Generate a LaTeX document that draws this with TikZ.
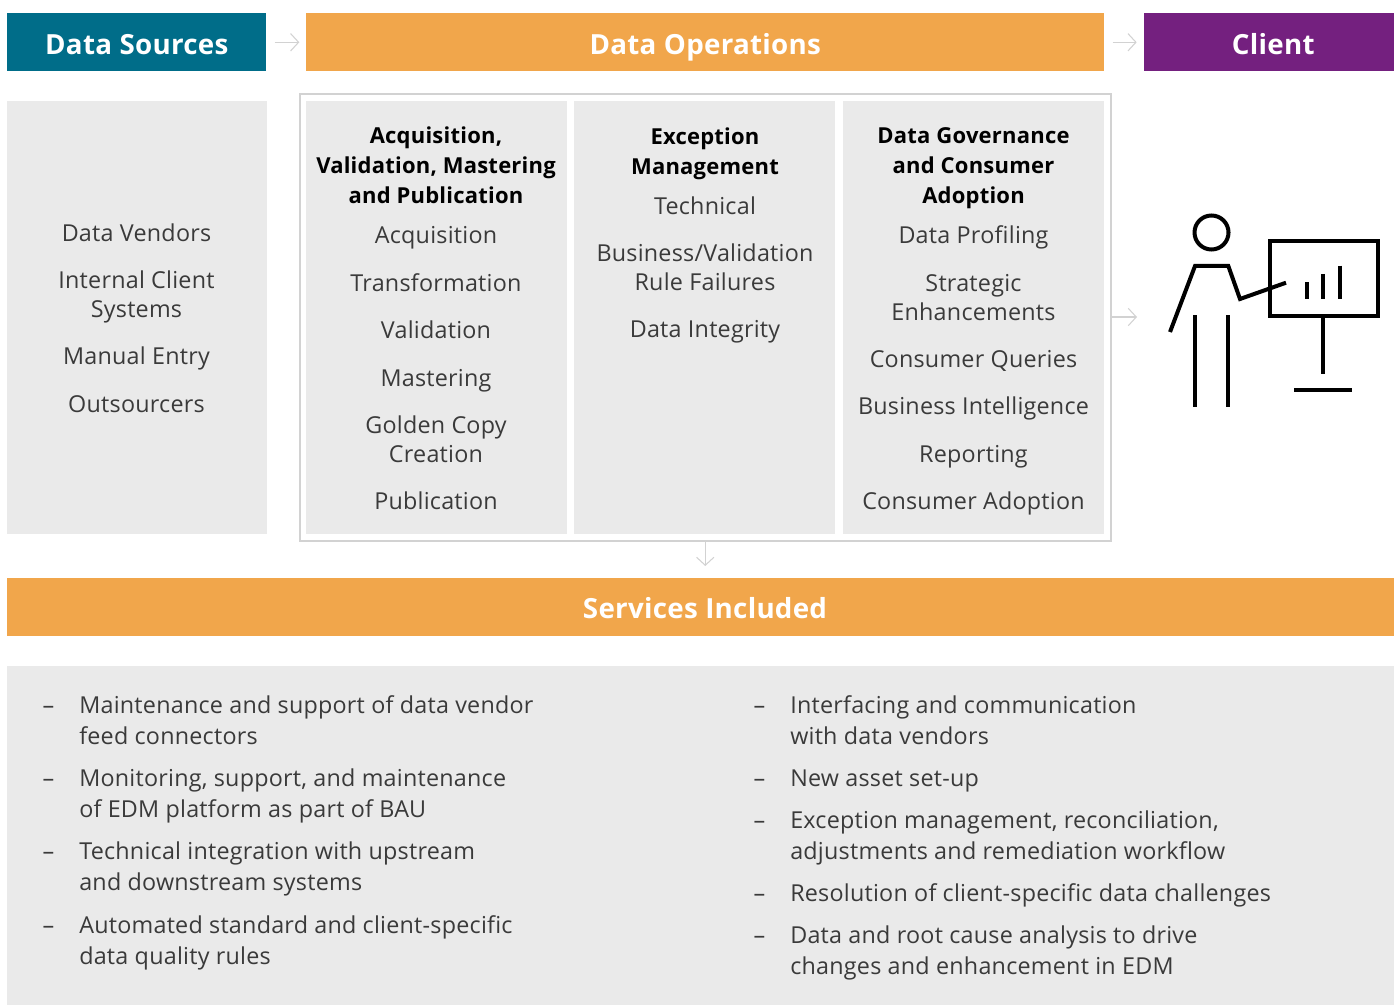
\documentclass[tikz,border=0pt]{standalone}
\usepackage{fontspec}
\setmainfont{Open Sans}[Ligatures=NoCommon,LetterSpace=1]
\usepackage{xcolor}
\usetikzlibrary{positioning,arrows.meta}
\definecolor{srcteal}{HTML}{006D89}
\definecolor{opsorange}{HTML}{F1A64B}
\definecolor{clientpurple}{HTML}{74207F}
\definecolor{panelgrey}{HTML}{EAEAEA}
\definecolor{framegrey}{HTML}{D2D2D2}
\definecolor{textgrey}{HTML}{3A3A3A}
\newcommand{\dashitem}{\llap{\hbox to 27.5pt{--\hss}}}

\begin{document}
\begin{tikzpicture}[%
    x=0.75pt,
    y=-0.75pt,
    ->,
    >={Straight Barb[length=6pt,width=13pt]},
    bar/.style={%
      anchor=north west,
      minimum height=43.5pt,
      inner sep=0pt,
      text=white,
      text height=19pt,
      text depth=0.5pt,
      font=\fontsize{20.8}{26}\selectfont\bfseries
    },
    panel/.style={%
      anchor=north west,
      minimum height=324.75pt,
      minimum width=195.75pt,
      inner sep=0pt,
      fill=panelgrey
    },
    item/.style={%
      align=center,
      inner sep=0pt,
      text=textgrey,
      node distance=13.5pt,
      execute at begin node=\strut,
      execute at end node=\strut,
      font=\fontsize{17.5}{21.75}\selectfont
    },
    head/.style={%
      align=center,
      inner sep=0pt,
      text=black,
      execute at begin node=\strut,
      execute at end node=\strut,
      font=\fontsize{16.5}{22.5}\selectfont\bfseries
    },
    bullet/.style={%
      align=left,
      inner sep=0pt,
      text=textgrey,
      anchor=north west,
      node distance=8pt,
      execute at begin node=\strut,
      execute at end node=\strut,
      font=\fontsize{17.5}{23.25}\selectfont
    },
    link/.style={%
      draw=framegrey,
      line width=0.8pt
    },
    figureline/.style={%
      -,
      draw=black,
      line width=3pt
    }
  ]
    \useasboundingbox (0,0) rectangle (1394,1005);

    % header row
    \node[bar,fill=srcteal,minimum width=194.25pt] (sources) at (7,13) {Data Sources};
    \node[bar,fill=opsorange,minimum width=598.5pt,right=29.6pt of sources.north east,anchor=north west] (ops) {Data Operations};
    \node[bar,fill=clientpurple,minimum width=187.5pt,right=29.6pt of ops.north east,anchor=north west] (client) {\hspace*{6pt}Client};

    % panels
    \node[panel,minimum width=195pt] (srcpanel) at (7,101) {};
    \node[anchor=north west,draw=framegrey,line width=1.5pt,minimum width=608.6pt,minimum height=334.5pt,inner sep=0pt] (frame) at (298.5,93.5) {};
    \node[panel] (acqpanel) at (306,101) {};
    \node[panel] (excpanel) at (574,101) {};
    \node[panel] (govpanel) at (843,101) {};

    \node[bar,fill=opsorange,minimum width=1040.25pt] (services) at (7,578) {};
    \node[bar,anchor=center,minimum height=0pt] (servicestxt) at (705,606) {Services Included};
    \node[panel,minimum width=1040.25pt,minimum height=254.25pt] (bottompanel) at (7,666) {};

    % sources
    \node[item,anchor=north] (vendors) at (136.5,220.7) {Data Vendors};
    \node[item,below=15.5pt of vendors] (internal) {Internal Client\\Systems};
    \node[item,below=13pt of internal] (manual) {Manual Entry};
    \node[item,below=of manual] (outsourcers) {Outsourcers};

    % acquisition
    \node[head,anchor=north] (acqhead) at (436,127) {Acquisition,\\Validation, Mastering\\and Publication};
    \node[item,below=7.5pt of acqhead] (acquisition) {Acquisition};
    \node[item,below=of acquisition] (transformation) {Transformation};
    \node[item,below=of transformation] (validation) {Validation};
    \node[item,below=of validation] (mastering) {Mastering};
    \node[item,below=15pt of mastering] (golden) {Golden Copy\\Creation};
    \node[item,below=of golden] (publication) {Publication};

    % exceptions
    \node[head,anchor=north] (exchead) at (705,128) {Exception\\Management};
    \node[item,below=7.5pt of exchead] (technical) {Technical};
    \node[item,below=14.75pt of technical] (business) {Business/Validation\\Rule Failures};
    \node[item,below=of business] (integrity) {Data Integrity};

    % governance
    \node[head,anchor=north] (govhead) at (973.5,127) {Data Governance\\and Consumer\\Adoption};
    \node[item,below=8pt of govhead] (profiling) {Data Profiling};
    \node[item,below=16pt of profiling] (strategic) {Strategic\\Enhancements};
    \node[item,below=13pt of strategic] (queries) {Consumer Queries};
    \node[item,below=of queries] (intelligence) {Business Intelligence};
    \node[item,below=of intelligence] (reporting) {Reporting};
    \node[item,below=of reporting] (adoption) {Consumer Adoption};

    % services, left column
    \node[bullet] (maintenance) at (79,695.3) {\dashitem Maintenance and support of data vendor\\feed connectors};
    \node[bullet,below=11pt of maintenance.south west,anchor=north west] (monitoring) {\dashitem Monitoring, support, and maintenance\\of EDM platform as part of BAU};
    \node[bullet,below=11pt of monitoring.south west,anchor=north west] (integration) {\dashitem Technical integration with upstream\\and downstream systems};
    \node[bullet,below=11pt of integration.south west,anchor=north west] (rules) {\dashitem Automated standard and client-specific\\data quality rules};

    % services, right column
    \node[bullet] (interfacing) at (790,695.3) {\dashitem Interfacing and communication\\with data vendors};
    \node[bullet,below=of interfacing.south west,anchor=north west] (asset) {\dashitem New asset set-up};
    \node[bullet,below=10.5pt of asset.south west,anchor=north west] (exception) {\dashitem Exception management, reconciliation,\\adjustments and remediation workflow};
    \node[bullet,below=of exception.south west,anchor=north west] (resolution) {\dashitem Resolution of client-specific data challenges};
    \node[bullet,below=11pt of resolution.south west,anchor=north west] (rootcause) {\dashitem Data and root cause analysis to drive\\changes and enhancement in EDM};

    % connectors
    \coordinate (presenter) at (1137,317);
    \coordinate (frameright) at (1111,317);
    \path (sources) edge [link,shorten <=6pt,shorten >=5pt] (ops)
          (ops) edge [link,shorten <=6pt,shorten >=5.5pt] (client)
          (frameright) edge [link] (presenter)
          (frame) edge [link,shorten >=9pt] (frame.south |- services.north)
          ;

    % presenter figure
    \draw[figureline] (1211.5,232.5) circle (17);
    \draw[figureline] (1170,332) -- (1195,266) -- (1228.3,266) -- (1240,299) -- (1286,282.7);
    \draw[figureline] (1195,315.3) -- (1195,407);
    \draw[figureline] (1228.3,315.3) -- (1228.3,407);
    \draw[figureline] (1269.5,240.7) rectangle (1377.7,315.7);
    \draw[figureline] (1306.7,282.3) -- (1306.7,299);
    \draw[figureline] (1323.3,274) -- (1323.3,299);
    \draw[figureline] (1340,265.7) -- (1340,299);
    \draw[figureline] (1323.3,316) -- (1323.3,373.7);
    \draw[figureline] (1294.3,390.3) -- (1352.3,390.3);
  \end{tikzpicture}
\end{document}
